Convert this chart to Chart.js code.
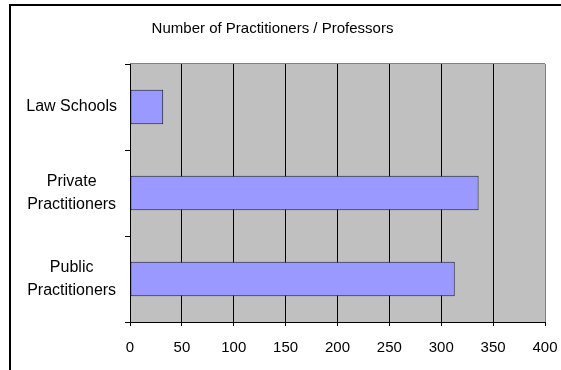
<!DOCTYPE html>
<html>
<head>
<meta charset="utf-8">
<script src="https://cdn.jsdelivr.net/npm/chart.js@4/dist/chart.umd.min.js"></script>
<style>
  html, body { margin: 0; padding: 0; background: #fff; }
  canvas { display: block; }
</style>
</head>
<body>
<canvas id="chart" width="561" height="370"></canvas>
<script>
// Categories and counts
const categories = ['Law Schools', ['Private', 'Practitioners'], ['Public', 'Practitioners']];
const counts = [32, 336, 313];
const axisMin = 0;
const axisMax = 400;
const axisStep = 50;

const FONT = '"Liberation Sans", Arial, sans-serif';

// Grey plot background, grey top edge and the outer frame of the chart
const framePlugin = {
  id: 'frame',
  beforeDraw(chart) {
    const { ctx, chartArea: a } = chart;
    ctx.save();
    ctx.fillStyle = '#ffffff';
    ctx.fillRect(0, 0, chart.width, chart.height);
    ctx.fillStyle = '#c0c0c0';
    ctx.fillRect(a.left, a.top, a.right - a.left, a.bottom - a.top);
    ctx.restore();
  },
  afterDraw(chart) {
    const { ctx, chartArea: a } = chart;
    ctx.save();
    ctx.strokeStyle = '#808080';
    ctx.lineWidth = 1;
    ctx.beginPath();
    ctx.moveTo(a.left, Math.round(a.top) - 0.5);
    ctx.lineTo(a.right, Math.round(a.top) - 0.5);
    ctx.stroke();
    ctx.strokeStyle = '#000000';
    ctx.lineWidth = 2;
    ctx.strokeRect(10, 5, 700, 500);
    ctx.restore();
  }
};

new Chart(document.getElementById('chart'), {
  type: 'bar',
  data: {
    labels: categories,
    datasets: [{
      data: counts,
      backgroundColor: '#9999ff',
      borderColor: '#1a1a33',
      borderWidth: 1,
      borderSkipped: false,
      categoryPercentage: 1.0,
      barPercentage: 0.4
    }]
  },
  options: {
    indexAxis: 'y',
    responsive: false,
    animation: false,
    devicePixelRatio: 1,
    layout: { padding: { left: 0, right: 16, top: 0, bottom: 0 } },
    plugins: {
      legend: { display: false },
      tooltip: { enabled: false },
      title: {
        display: true,
        text: 'Number of Practitioners / Professors',
        color: '#000',
        font: { family: FONT, size: 15, weight: 'normal', lineHeight: 1.2 },
        padding: { top: 20, bottom: 26 }
      }
    },
    scales: {
      x: {
        min: axisMin,
        max: axisMax,
        afterFit(scale) {
          scale.height = 48;
          scale.paddingLeft = 0;
          scale.paddingRight = 0;
        },
        ticks: {
          stepSize: axisStep,
          color: '#000',
          font: { family: FONT, size: 15 },
          padding: 13,
          maxRotation: 0
        },
        grid: {
          color: ctx => (ctx.tick && ctx.tick.value === axisMax) ? '#808080' : '#000000',
          tickColor: '#000000',
          tickLength: 4,
          lineWidth: 1
        },
        border: { display: true, color: '#000', width: 1 }
      },
      y: {
        afterFit(scale) { scale.width = 130; },
        ticks: {
          color: '#000',
          font: { family: FONT, size: 16, lineHeight: 1.42 },
          padding: 8,
          crossAlign: 'center'
        },
        grid: {
          offset: true,
          drawOnChartArea: false,
          color: '#000',
          tickLength: 5
        },
        border: { display: true, color: '#000', width: 1 }
      }
    }
  },
  plugins: [framePlugin]
});
</script>
</body>
</html>
